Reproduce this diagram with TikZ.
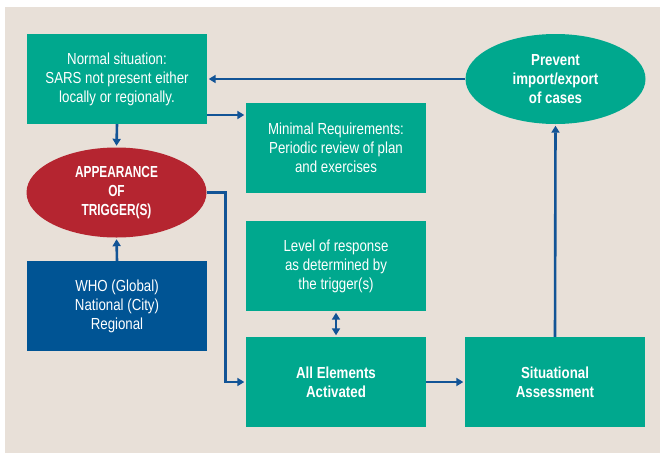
\documentclass[tikz,border=0pt]{standalone}
\usepackage{fontspec}
\setmainfont[FakeStretch=0.83]{Liberation Sans}
\newfontfamily\capsfont[FakeStretch=0.74]{Liberation Sans}
\usetikzlibrary{shapes.geometric,arrows.meta}
\definecolor{teal}{RGB}{0,168,142}
\definecolor{trigred}{RGB}{181,37,48}
\definecolor{whoblue}{RGB}{0,84,148}
\definecolor{arrblue}{RGB}{18,84,150}
\definecolor{bg}{RGB}{232,224,216}
\begin{document}
\begin{tikzpicture}[x=1pt,y=-1pt,
  box/.style={rectangle,fill=teal,text=white,minimum width=180pt,minimum height=90pt,inner sep=0pt,align=center,font=\fontsize{16}{19}\selectfont},
  oval/.style={ellipse,text=white,minimum width=180pt,minimum height=90pt,inner sep=0pt,align=center,font=\bfseries\fontsize{16}{19}\selectfont},
  boldbox/.style={box,font=\bfseries\fontsize{16}{19}\selectfont},
  arr/.style={draw=arrblue,line width=2.6pt,-{Triangle[length=7pt,width=8pt]},shorten >=1.5pt}]
\useasboundingbox (0,0) rectangle (660,453);
\fill[white] (0,0) rectangle (660,453);
\fill[bg] (5,7) rectangle (660,453);
\node[box] (normal) at (117,79) {Normal situation:\\SARS not present either\\locally or regionally.};
\node[box] (minimal) at (336,148) {Minimal Requirements:\\Periodic review of plan\\and exercises};
\node[oval,fill=trigred,font=\capsfont\bfseries\fontsize{16}{19}\selectfont] (trig) at (116.5,192.5) {APPEARANCE\\OF\\TRIGGER(S)};
\node[oval,fill=teal] (prev) at (555.5,79) {Prevent\\import/export\\of cases};
\node[box,fill=whoblue] (who) at (117,306) {WHO (Global)\\National (City)\\Regional};
\node[box] (level) at (336,266) {Level of response\\as determined by\\the trigger(s)};
\node[boldbox] (all) at (336,382) {All Elements\\Activated};
\node[boldbox] (sit) at (555,382) {Situational\\Assessment};
\draw[arr] (prev.west) -- (normal.east);
\draw[arr] (normal.east |- 0,115) -- (minimal.west |- 0,115);
\draw[arr] (normal.south) -- (trig.north);
\draw[arr] (who.north) -- (trig.south);
\draw[arr] (trig.east) -- ++(19,0) |- (all.west);
\draw[arr,{Triangle[length=7pt,width=8pt]}-{Triangle[length=7pt,width=8pt]},shorten <=1.5pt] (level.south) -- (all.north);
\draw[arr] (all.east) -- (sit.west);
\draw[arr] (sit.north) -- (prev.south);
\end{tikzpicture}
\end{document}
